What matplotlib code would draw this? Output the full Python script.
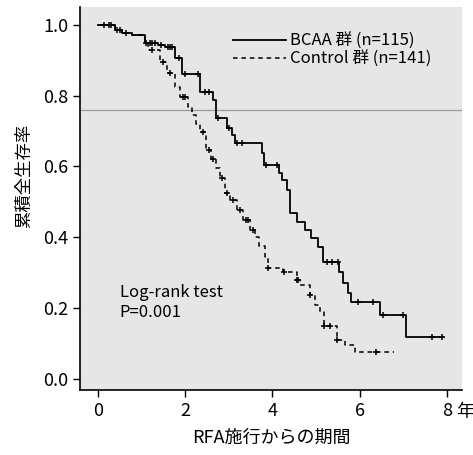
import numpy as np
import matplotlib
matplotlib.use("Agg")
import matplotlib.pyplot as plt
from matplotlib.lines import Line2D

plt.rcParams['font.family'] = ['Noto Sans CJK JP', 'DejaVu Sans']

# BCAA group: step times (years) and survival after each step
bcaa_t = [0, 0.39, 0.55, 0.78, 1.08, 1.38, 1.54, 1.77, 1.93, 2.34, 2.64, 2.70,
          2.96, 3.07, 3.14, 3.76, 3.82, 4.15, 4.22, 4.33, 4.40, 4.56, 4.76, 4.88,
          5.05, 5.16, 5.54, 5.62, 5.73, 5.80, 6.47, 7.06]
bcaa_s = [1.0, 0.986, 0.977, 0.972, 0.949, 0.944, 0.938, 0.907, 0.862, 0.811, 0.788, 0.737,
          0.709, 0.689, 0.667, 0.638, 0.605, 0.580, 0.562, 0.534, 0.469, 0.444, 0.421, 0.398,
          0.373, 0.331, 0.302, 0.271, 0.243, 0.218, 0.181, 0.119]
bcaa_end = 7.91
bcaa_cens = [0.15, 0.25, 0.3, 0.45, 0.5, 0.65, 1.1, 1.2, 1.25, 1.3, 1.45, 1.6, 1.65, 1.7,
             1.85, 2.0, 2.3, 2.45, 2.55, 2.75, 3.0, 3.2, 3.3, 3.85, 4.1, 5.25, 5.37, 5.5,
             5.96, 6.3, 6.54, 7.0, 7.66, 7.89]

# Control group
ctrl_t = [0, 0.39, 0.55, 0.78, 1.08, 1.15, 1.42, 1.58, 1.77, 1.88, 2.06, 2.15, 2.25, 2.34,
          2.48, 2.60, 2.70, 2.80, 2.91, 3.03, 3.19, 3.33, 3.49, 3.60, 3.70, 3.83, 3.90,
          4.24, 4.56, 4.63, 4.86, 4.98, 5.09, 5.18, 5.48, 5.66, 5.89]
ctrl_s = [1.0, 0.986, 0.977, 0.972, 0.949, 0.929, 0.895, 0.864, 0.825, 0.797, 0.768, 0.745, 0.72, 0.698,
          0.647, 0.62, 0.595, 0.568, 0.525, 0.506, 0.477, 0.449, 0.421, 0.40, 0.375, 0.345, 0.314,
          0.302, 0.280, 0.266, 0.237, 0.209, 0.189, 0.150, 0.110, 0.096, 0.076]
ctrl_end = 6.8
ctrl_cens = [1.25, 1.5, 1.65, 1.95, 2.0, 2.4, 2.55, 2.65, 2.85, 2.95, 3.1, 3.25, 3.4, 3.45,
             3.55, 3.9, 4.28, 4.56, 4.6, 4.86, 5.18, 5.33, 5.48, 6.37]

xticks = [0, 2, 4, 6, 8]
yticks = [0.0, 0.2, 0.4, 0.6, 0.8, 1.0]


def surv_at(ts, ss, x):
    idx = np.searchsorted(np.asarray(ts), np.asarray(x), side='right') - 1
    return np.asarray(ss)[idx]


fig = plt.figure(figsize=(4.73, 4.55), dpi=100)
ax = fig.add_axes([0.1691, 0.1429, 0.8076, 0.8418])
ax.set_facecolor('#e6e6e6')

# scan artifact line
ax.axhline(0.76, color='#9a9a9a', lw=0.9, zorder=1)

bx = list(bcaa_t) + [bcaa_end]
by = list(bcaa_s) + [bcaa_s[-1]]
ax.step(bx, by, where='post', color='black', lw=1.3, zorder=3)
ax.plot(bcaa_cens, surv_at(bcaa_t, bcaa_s, bcaa_cens), ls='none', marker='+',
        ms=5, mew=1.1, color='black', zorder=4)

cx = list(ctrl_t) + [ctrl_end]
cy = list(ctrl_s) + [ctrl_s[-1]]
ax.step(cx, cy, where='post', color='black', lw=1.1, dashes=(3, 2.5), zorder=3)
ax.plot(ctrl_cens, surv_at(ctrl_t, ctrl_s, ctrl_cens), ls='none', marker='+',
        ms=5, mew=1.1, color='black', zorder=4)

ax.set_xlim(-0.41, 8.35)
ax.set_ylim(-0.031, 1.05)
ax.set_xticks(xticks)
ax.set_xticklabels([str(v) for v in xticks])
ax.set_yticks(yticks)
ax.set_yticklabels([f"{v:.1f}" for v in yticks])
ax.tick_params(axis='both', labelsize=13, length=5, width=1.0, color='black')
ax.tick_params(axis='x', pad=4)
for s in ['top', 'right']:
    ax.spines[s].set_visible(False)
for s in ['left', 'bottom']:
    ax.spines[s].set_linewidth(1.2)

ax.text(8.22, -0.068, '年', fontsize=13, va='top', ha='left', clip_on=False)

ax.set_xlabel('RFA施行からの期間', fontsize=13, labelpad=6)
ax.set_ylabel('累積全生存率', fontsize=12.5)
ax.yaxis.set_label_coords(-0.123, 0.56)

ax.text(0.5, 0.215, 'Log-rank test\nP=0.001', fontsize=12, va='center', ha='left',
        linespacing=1.25)

handles = [Line2D([], [], color='black', lw=1.3),
           Line2D([], [], color='black', lw=1.1, dashes=(3, 2.5))]
labels = ['BCAA 群 (n=115)', 'Control 群 (n=141)']
leg = ax.legend(handles, labels, loc='upper left',
                bbox_to_anchor=(233 / 473, 1 - 33 / 455), bbox_transform=fig.transFigure,
                frameon=False, fontsize=12, handlelength=3.2, handletextpad=0.2,
                borderpad=0, borderaxespad=0, labelspacing=0.05)

fig.savefig('out.png', dpi=100)
